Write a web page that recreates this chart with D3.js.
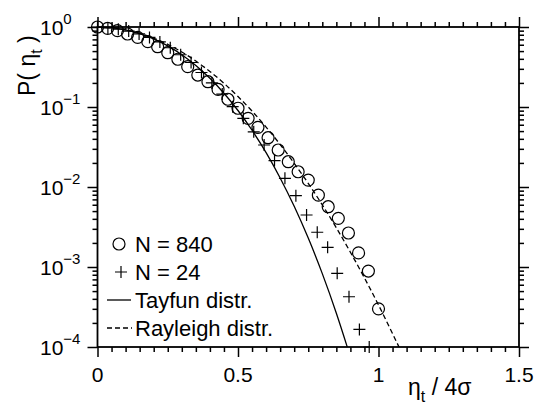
<!DOCTYPE html>
<html>
<head>
<meta charset="utf-8">
<script src="https://cdn.jsdelivr.net/npm/d3@7"></script>
<style>
  body { margin: 0; background: #fff; }
  text { font-family: "Liberation Sans", Arial, Helvetica, sans-serif; fill: #000; }
</style>
</head>
<body>
<svg id="chart" width="544" height="407"></svg>
<script>
// Exceedance probability of trough depth, eta_t / 4 sigma
const n840X = [0, 0.036, 0.071, 0.107, 0.143, 0.179, 0.214, 0.25, 0.286, 0.321, 0.357, 0.393, 0.429, 0.464,
               0.5, 0.536, 0.571, 0.607, 0.643, 0.679, 0.714, 0.75, 0.786, 0.821, 0.857, 0.893, 0.929, 0.964, 1.0];
const n840Y = [1.0, 0.963, 0.90, 0.818, 0.743, 0.655, 0.567, 0.477, 0.395, 0.319, 0.251, 0.207, 0.166, 0.125,
               0.0964, 0.0722, 0.0557, 0.0413, 0.029, 0.0207, 0.0155, 0.0122, 0.0079, 0.00567, 0.00406, 0.00266,
               0.0015, 0.00089, 0.0003];

const n24X = [0, 0.037, 0.074, 0.111, 0.148, 0.185, 0.222, 0.259, 0.296, 0.333, 0.370, 0.407, 0.444, 0.481,
              0.519, 0.556, 0.593, 0.630, 0.667, 0.706, 0.744, 0.782, 0.819, 0.853, 0.895, 0.932, 0.967];
const n24Y = [1.0, 0.975, 0.94, 0.89, 0.82, 0.74, 0.65, 0.55, 0.45, 0.36, 0.27, 0.20, 0.145, 0.101,
              0.0722, 0.049, 0.0335, 0.0214, 0.01285, 0.00778, 0.00447, 0.00272, 0.00176, 0.000834,
              0.000425, 0.000166, 0.0001];

const tayfunX = [0, 0.05, 0.1, 0.15, 0.2, 0.25, 0.3, 0.35, 0.4, 0.45, 0.5, 0.55, 0.6, 0.65, 0.7, 0.75, 0.8, 0.85, 0.887, 0.89];
const tayfunY = [1, 0.9799, 0.9207, 0.8276, 0.7102, 0.5801, 0.4499, 0.3302, 0.2286, 0.1487, 0.0904, 0.0512,
                 0.02688, 0.01298, 0.005734, 0.002296, 0.000826, 0.0002645, 0.0001047, 0.0000969];

const rayleighX = [0, 0.05, 0.1, 0.15, 0.2, 0.25, 0.3, 0.35, 0.4, 0.45, 0.5, 0.55, 0.6, 0.65, 0.7, 0.75, 0.8,
                   0.85, 0.9, 0.95, 1.0, 1.05, 1.075];
const rayleighY = [1, 0.980, 0.923, 0.835, 0.726, 0.607, 0.487, 0.375, 0.278, 0.198, 0.135, 0.0889, 0.0561,
                   0.0340, 0.0198, 0.0111, 0.00598, 0.00309, 0.00153, 0.000731, 0.000335, 0.000147, 0.0000966];

const xMajor = [0, 0.5, 1, 1.5];
const xMajorLabels = ["0", "0.5", "1", "1.5"];
const yMajor = [1, 0.1, 0.01, 0.001, 0.0001];
const yExponents = ["0", "\u22121", "\u22122", "\u22123", "\u22124"];

const legendLabels = ["N = 840", "N = 24", "Tayfun distr.", "Rayleigh distr."];

const svg = d3.select("#chart");
const L = 97.5, R = 519, T = 27, B = 347;

const x = d3.scaleLinear().domain([0, 1.5]).range([L, R]);
const y = d3.scaleLog().domain([1e-4, 1]).range([B, T]);

// minor tick positions
const xMinor = d3.range(0, 31).map(i => i * 0.05).filter(v => !xMajor.some(m => Math.abs(m - v) < 1e-9));
const yMinor = [];
[-4, -3, -2, -1].forEach(e => { for (let k = 2; k <= 9; k++) yMinor.push(k * Math.pow(10, e)); });

function styleAxis(g) {
  g.select(".domain").remove();
  g.selectAll("line").attr("stroke", "#000").attr("stroke-width", 1.5);
  g.selectAll("text").remove();
}

// bottom
svg.append("g").attr("transform", `translate(0,${B})`)
  .call(d3.axisBottom(x).tickValues(xMajor).tickSize(10).tickFormat("")).call(styleAxis);
svg.append("g").attr("transform", `translate(0,${B})`)
  .call(d3.axisBottom(x).tickValues(xMinor).tickSize(5).tickFormat("")).call(styleAxis);
// top
svg.append("g").attr("transform", `translate(0,${T})`)
  .call(d3.axisTop(x).tickValues(xMajor).tickSize(10).tickFormat("")).call(styleAxis);
svg.append("g").attr("transform", `translate(0,${T})`)
  .call(d3.axisTop(x).tickValues(xMinor).tickSize(5).tickFormat("")).call(styleAxis);
// left
svg.append("g").attr("transform", `translate(${L},0)`)
  .call(d3.axisLeft(y).tickValues(yMajor).tickSize(10).tickFormat("")).call(styleAxis);
svg.append("g").attr("transform", `translate(${L},0)`)
  .call(d3.axisLeft(y).tickValues(yMinor).tickSize(5).tickFormat("")).call(styleAxis);
// right
svg.append("g").attr("transform", `translate(${R},0)`)
  .call(d3.axisRight(y).tickValues(yMajor).tickSize(10).tickFormat("")).call(styleAxis);
svg.append("g").attr("transform", `translate(${R},0)`)
  .call(d3.axisRight(y).tickValues(yMinor).tickSize(5).tickFormat("")).call(styleAxis);

// frame
svg.append("rect").attr("x", L).attr("y", T).attr("width", R - L).attr("height", B - T)
  .attr("fill", "none").attr("stroke", "#000").attr("stroke-width", 1.8);

// x tick labels
svg.append("g").selectAll("text").data(xMajor).join("text")
  .attr("x", d => x(d)).attr("y", B + 35)
  .attr("text-anchor", "middle").attr("font-size", 21)
  .text((d, i) => xMajorLabels[i]);

// y tick labels: 10 with exponent
const yl = svg.append("g").selectAll("text").data(yMajor).join("text")
  .attr("x", 40).attr("y", d => y(d) + 8).attr("font-size", 21);
yl.append("tspan").text("10");
yl.append("tspan").attr("font-size", 15).attr("dy", -11).text((d, i) => yExponents[i]);

// axis titles
const xt = svg.append("text").attr("x", 408).attr("y", 395).attr("font-size", 23);
xt.append("tspan").text("\u03b7");
xt.append("tspan").attr("font-size", 16).attr("dy", 7).text("t");
xt.append("tspan").attr("dy", -7).text(" / 4\u03c3");

const yt = svg.append("text").attr("transform", "translate(35,96) rotate(-90)").attr("font-size", 23);
yt.append("tspan").text("P( \u03b7");
yt.append("tspan").attr("font-size", 16).attr("dy", 7).text("t");
yt.append("tspan").attr("dy", -7).text(" )");

// curves
svg.append("clipPath").attr("id", "plotClip").append("rect")
  .attr("x", L).attr("y", T).attr("width", R - L).attr("height", B - T);

const line = d3.line().x(d => x(d[0])).y(d => y(d[1])).curve(d3.curveMonotoneX);
const tayfun = tayfunX.map((v, i) => [v, tayfunY[i]]);
const rayleigh = rayleighX.map((v, i) => [v, rayleighY[i]]);

svg.append("path").datum(tayfun).attr("clip-path", "url(#plotClip)")
  .attr("d", line).attr("fill", "none").attr("stroke", "#000").attr("stroke-width", 1.3);
svg.append("path").datum(rayleigh).attr("clip-path", "url(#plotClip)")
  .attr("d", line).attr("fill", "none").attr("stroke", "#000").attr("stroke-width", 1.3)
  .attr("stroke-dasharray", "5,3");

// markers
const pts840 = n840X.map((v, i) => [v, n840Y[i]]);
const pts24 = n24X.map((v, i) => [v, n24Y[i]]);
const r = 6;

svg.append("g").selectAll("circle").data(pts840).join("circle")
  .attr("cx", d => x(d[0])).attr("cy", d => y(d[1])).attr("r", r)
  .attr("fill", "none").attr("stroke", "#000").attr("stroke-width", 1.2);

const plusPath = d => `M${x(d[0]) - r},${y(d[1])}H${x(d[0]) + r}M${x(d[0])},${y(d[1]) - r}V${y(d[1]) + r}`;
svg.append("g").selectAll("path").data(pts24).join("path")
  .attr("d", plusPath).attr("fill", "none").attr("stroke", "#000").attr("stroke-width", 1.2);

// legend
const lg = svg.append("g");
const rowY = [244, 272, 300, 328];
lg.append("circle").attr("cx", 119).attr("cy", rowY[0]).attr("r", r)
  .attr("fill", "none").attr("stroke", "#000").attr("stroke-width", 1.2);
lg.append("path").attr("d", `M${121 - r},${rowY[1]}H${121 + r}M121,${rowY[1] - r}V${rowY[1] + r}`)
  .attr("stroke", "#000").attr("stroke-width", 1.2);
lg.append("line").attr("x1", 107).attr("x2", 131).attr("y1", rowY[2]).attr("y2", rowY[2])
  .attr("stroke", "#000").attr("stroke-width", 1.3);
lg.append("line").attr("x1", 107).attr("x2", 132).attr("y1", rowY[3]).attr("y2", rowY[3])
  .attr("stroke", "#000").attr("stroke-width", 1.3).attr("stroke-dasharray", "5,3");
lg.selectAll("text").data(legendLabels).join("text")
  .attr("x", 135).attr("y", (d, i) => rowY[i] + 8).attr("font-size", 22).text(d => d);
</script>
</body>
</html>
